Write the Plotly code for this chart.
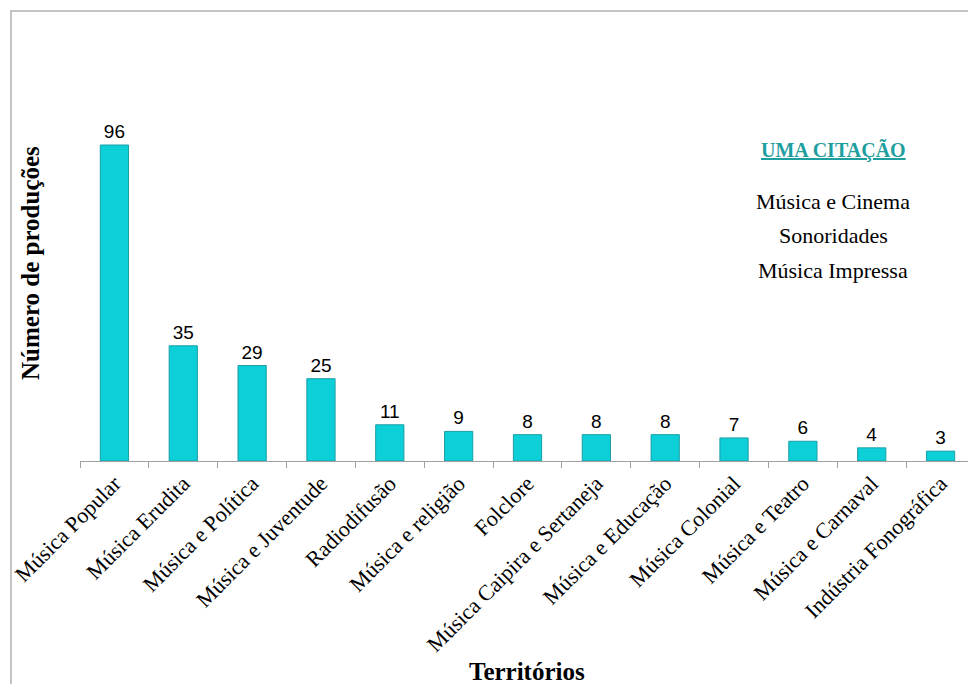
import plotly.graph_objects as go

categories = ["Música Popular", "Música Erudita", "Música e Política", "Música e Juventude",
              "Radiodifusão", "Música e religião", "Folclore", "Música Caipira e Sertaneja",
              "Música e Educação", "Música Colonial", "Música e Teatro", "Música e Carnaval",
              "Indústria Fonográfica"]
values = [96, 35, 29, 25, 11, 9, 8, 8, 8, 7, 6, 4, 3]
single_citation_title = "UMA CITAÇÃO"
single_citation = ["Música e Cinema", "Sonoridades", "Música Impressa"]

W, H = 976, 684
OFF = 8  # page body margin offset
# plot area in screen coords: x 80..975, y 66..461
L = 80 - OFF
R = W - (975 - OFF)
T = 66 - OFF
B = H - (461 - OFF)
pw, ph = W - L - R, H - T - B

def px(x):
    return (x - OFF - L) / pw

def py(y):
    return (H - B - (y - OFF)) / ph

serif = "Liberation Serif, Times New Roman"

fig = go.Figure(go.Bar(
    x=categories, y=values,
    marker=dict(color="#0ccfd8", line=dict(color="#1a9ea6", width=1)),
    text=[str(v) for v in values], textposition="outside",
    textfont=dict(family="Liberation Sans, Arial", size=19, color="black"),
    cliponaxis=False,
))

fig.update_layout(
    width=W, height=H,
    margin=dict(l=L, r=R, t=T, b=B, autoexpand=False),
    paper_bgcolor="white", plot_bgcolor="white",
    bargap=0.59, showlegend=False,
    font=dict(family=serif, color="black"),
    xaxis=dict(
        type="category", tickangle=-45, tickson="boundaries", automargin=False,
        ticks="outside", ticklen=6, tickcolor="#a0a0a0", tickwidth=1,
        showline=True, linecolor="#a0a0a0", linewidth=1,
        tickfont=dict(family=serif, size=22, color="black"),
        showgrid=False,
    ),
    yaxis=dict(range=[0, 120], showgrid=False, showticklabels=False, zeroline=False,
               showline=False, ticks="", automargin=False),
    shapes=[dict(type="rect", xref="paper", yref="paper",
                 x0=px(11), x1=px(1000), y0=py(11), y1=py(720),
                 line=dict(color="#b0b0b0", width=1.5), fillcolor="rgba(0,0,0,0)", layer="below")],
)

annotations = [
    dict(text="<b>Número de produções</b>", textangle=-90, x=px(30), y=py(263),
         xref="paper", yref="paper", showarrow=False, xanchor="center", yanchor="middle",
         font=dict(family=serif, size=25, color="black")),
    dict(text="<b>Territórios</b>", x=px(527), y=py(671),
         xref="paper", yref="paper", showarrow=False, xanchor="center", yanchor="middle",
         font=dict(family=serif, size=25, color="black")),
    dict(text="<b><span style='text-decoration:underline'>" + single_citation_title + "</span></b>",
         x=px(833), y=py(150), xref="paper", yref="paper", showarrow=False,
         xanchor="center", yanchor="middle",
         font=dict(family=serif, size=20, color="#1f9ea0")),
]
for i, name in enumerate(single_citation):
    annotations.append(dict(text=name, x=px(833), y=py(202 + 34 * i), xref="paper", yref="paper",
                            showarrow=False, xanchor="center", yanchor="middle",
                            font=dict(family=serif, size=22, color="black")))
fig.update_layout(annotations=annotations)

fig.write_html("out.html")
